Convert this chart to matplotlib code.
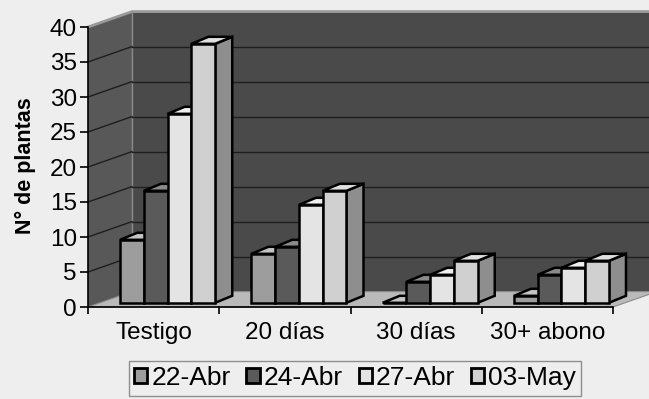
import matplotlib
matplotlib.use("Agg")
import matplotlib.pyplot as plt
from matplotlib.patches import Polygon, Patch

plt.rcParams['font.family'] = ['Liberation Sans', 'DejaVu Sans']

categories = ["Testigo", "20 días", "30 días", "30+ abono"]
series_names = ["22-Abr", "24-Abr", "27-Abr", "03-May"]
values_22abr = [9, 7, 0, 1]
values_24abr = [16, 8, 3, 4]
values_27abr = [27, 14, 4, 5]
values_03may = [37, 16, 6, 6]
series_values = [values_22abr, values_24abr, values_27abr, values_03may]
y_ticks = [0, 5, 10, 15, 20, 25, 30, 35, 40]

front_col = ["#9d9d9d", "#5a5a5a", "#e4e4e4", "#d0d0d0"]
side_col = ["#7a7a7a", "#404040", "#b8b8b8", "#8e8e8e"]
top_col = ["#c4c4c4", "#8a8a8a", "#f0f0f0", "#e0e0e0"]

bg = "#eeeeee"
fig = plt.figure(figsize=(6.49, 3.99), dpi=100, facecolor=bg)
ax = fig.add_axes([88/649, 92/399, 525/649, 280/399])
ax.set_facecolor("none")
ax.set_xlim(0, 4)
ax.set_ylim(0, 40)

# depth geometry (data units)
dxw, dyw = 0.335, 2.2      # wall depth
bsx, bsy = 0.107, 0.6      # bar front offset from front plane
bdx, bdy = 0.13, 1.0       # bar depth
bw = 0.181
gap = (1 - 4 * bw) / 2

# walls and floor
ax.add_patch(Polygon([(dxw, dyw), (5, dyw), (5, 40 + dyw), (dxw, 40 + dyw)],
                     closed=True, fc="#4a4a4a", ec="none", zorder=0, clip_on=False))
ax.add_patch(Polygon([(0, 0), (dxw, dyw), (dxw, 40 + dyw), (0, 40)],
                     closed=True, fc="#585858", ec="none", zorder=0.5, clip_on=False))
ax.add_patch(Polygon([(0, 0), (4, 0), (4 + dxw, dyw), (dxw, dyw)],
                     closed=True, fc="#bababa", ec="#8a8a8a", lw=0.8, zorder=0.6, clip_on=False))
# top edges of walls
ax.plot([0, dxw, 5], [40, 40 + dyw, 40 + dyw], color="#9a9a9a", lw=2, zorder=0.7, clip_on=False)
ax.plot([dxw, dxw], [dyw, 40 + dyw], color="#8a8a8a", lw=1, zorder=0.7, clip_on=False)

# gridlines
for t in y_ticks[1:-1]:
    ax.plot([dxw, 5], [t + dyw, t + dyw], color="#1e1e1e", lw=1.0, zorder=0.8, clip_on=False)
    ax.plot([0, dxw], [t, t + dyw], color="#1e1e1e", lw=1.0, zorder=0.8, clip_on=False)

# bars
z = 2
for ci in range(len(categories)):
    for si, vals in enumerate(series_values):
        v = vals[ci]
        x0 = ci + gap + si * bw + bsx
        b = bsy
        ax.bar([x0], [v], bottom=b, width=bw, align="edge",
               color=front_col[si], edgecolor="black", linewidth=1.8, zorder=z + 0.2)
        side = Polygon([(x0 + bw, b), (x0 + bw + bdx, b + bdy),
                        (x0 + bw + bdx, b + v + bdy), (x0 + bw, b + v)],
                       closed=True, fc=side_col[si], ec="black", lw=1.8, zorder=z, clip_on=False)
        top = Polygon([(x0, b + v), (x0 + bw, b + v), (x0 + bw + bdx, b + v + bdy),
                       (x0 + bdx, b + v + bdy)],
                      closed=True, fc=top_col[si], ec="black", lw=1.8, zorder=z + 0.1, clip_on=False)
        ax.add_patch(side)
        ax.add_patch(top)
        z += 1

# axes styling
for s in ["top", "right"]:
    ax.spines[s].set_visible(False)
ax.spines["left"].set_color("black")
ax.spines["bottom"].set_color("black")
ax.spines["left"].set_linewidth(1.2)
ax.spines["bottom"].set_linewidth(1.2)
ax.spines["left"].set_zorder(1)
ax.set_yticks(y_ticks)
ax.tick_params(axis="y", labelsize=17.5, length=6, width=1.2, pad=2, direction="out")
ax.set_xticks([0, 1, 2, 3, 4])
ax.set_xticklabels([])
ax.set_xticks([0.5, 1.5, 2.5, 3.5], minor=True)
ax.set_xticklabels(categories, minor=True, fontsize=17.5)
ax.tick_params(axis="x", which="major", length=5, width=1.2, direction="out")
ax.tick_params(axis="x", which="minor", length=0, pad=11)

fig.text(25/649, 1 - 166/399, "N° de plantas", rotation=90, fontsize=15.5,
         fontweight="bold", ha="center", va="center")

handles = [Patch(fc=front_col[i], ec="black", lw=2) for i in range(4)]
leg = fig.legend(handles, series_names, loc="upper center", bbox_to_anchor=(355/649, 1 - 361/399),
                 ncol=4, frameon=True, fancybox=False, edgecolor="#777777", facecolor=bg,
                 fontsize=19, handlelength=0.5, handleheight=0.5, handletextpad=0.15,
                 columnspacing=0.6, borderpad=0.2, borderaxespad=0)
leg.get_frame().set_linewidth(1.0)

fig.savefig("out.png", dpi=100, facecolor=bg)
